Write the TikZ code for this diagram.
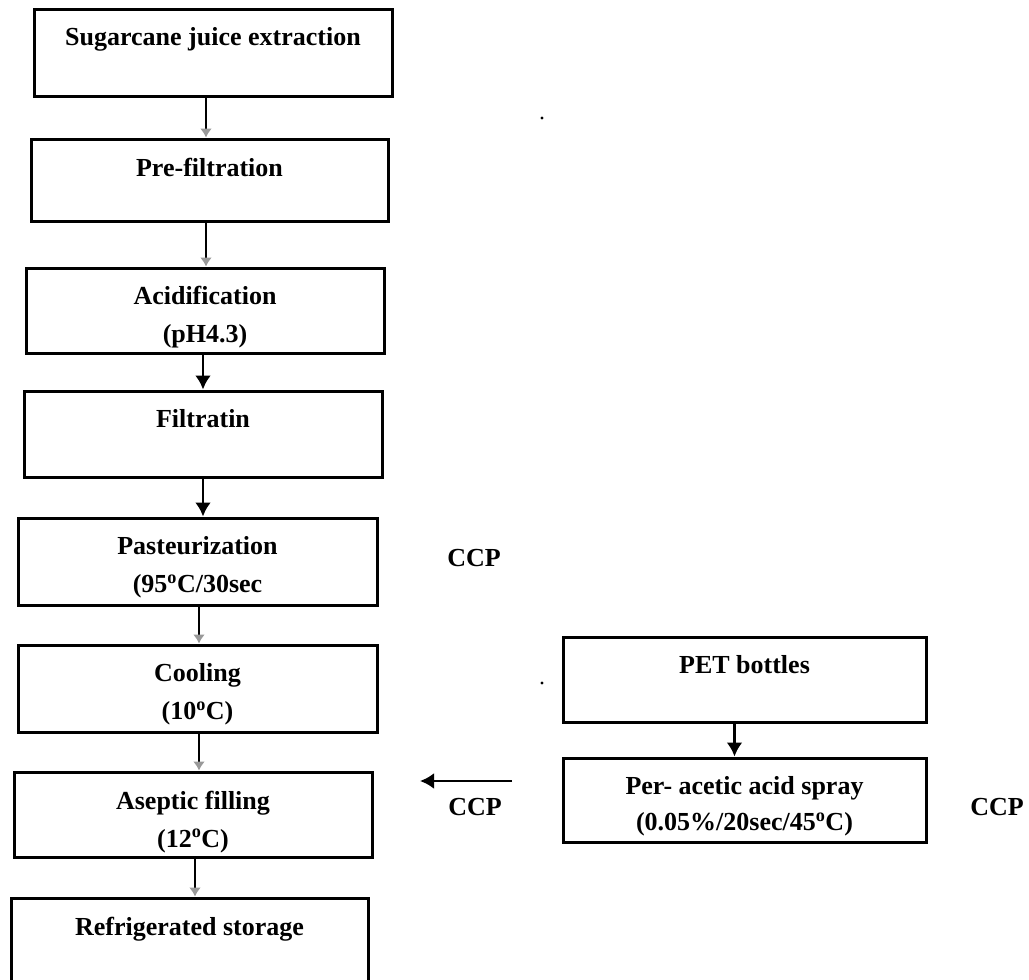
\documentclass[tikz,border=0pt]{standalone}
\usepackage{fontspec}
\setmainfont{Liberation Serif}
\usetikzlibrary{arrows.meta}
\begin{document}
\begin{tikzpicture}[x=1pt,y=-1pt,
  box/.style={draw, line width=3pt, inner sep=0pt},
  lbl/.style={font=\bfseries\fontsize{26}{38}\selectfont, align=center, inner sep=0pt, anchor=north},
  ccp/.style={font=\bfseries\fontsize{26}{30}\selectfont, inner sep=0pt},
  solidarr/.style={line width=2.8pt, -{Latex[length=14pt,width=16pt]}},
  faintarr/.style={line width=2.8pt, -{Latex[length=9pt,width=12pt,color=black!40]}}
]
\useasboundingbox (0,0) rectangle (1029,980);
\clip (0,0) rectangle (1029,980);

% boxes
\node[box, minimum width=358pt, minimum height=87pt] (b1) at (213,52.5) {};
\node[box, minimum width=357pt, minimum height=82pt] (b2) at (209.5,180) {};
\node[box, minimum width=358pt, minimum height=85pt] (b3) at (205,310.5) {};
\node[box, minimum width=358pt, minimum height=86pt] (b4) at (203,434) {};
\node[box, minimum width=359pt, minimum height=87pt] (b5) at (197.5,561.5) {};
\node[box, minimum width=359pt, minimum height=87pt] (b6) at (197.5,688.5) {};
\node[box, minimum width=358pt, minimum height=85pt] (b7) at (193,814.5) {};
\node[box, minimum width=357pt, minimum height=100pt] (b8) at (189.5,948) {};
\node[box, minimum width=363pt, minimum height=85pt] (pet) at (744.5,679.5) {};
\node[box, minimum width=363pt, minimum height=84pt] (per) at (744.5,800) {};

% texts
\node[lbl] (t1) at ([yshift=-20pt]b1.north) {Sugarcane juice extraction};
\node[lbl] (t2) at ([yshift=-20pt]b2.north) {Pre-filtration};
\node[lbl] (t3) at ([yshift=-19pt]b3.north) {Acidification\\(pH4.3)};
\node[lbl] (t4) at ([yshift=-20pt]b4.north) {Filtratin};
\node[lbl] (t5) at ([yshift=-20pt]b5.north) {Pasteurization\\(95\textsuperscript{o}C/30sec};
\node[lbl] (t6) at ([yshift=-20pt]b6.north) {Cooling\\(10\textsuperscript{o}C)};
\node[lbl] (t7) at ([yshift=-20pt]b7.north) {Aseptic filling\\(12\textsuperscript{o}C)};
\node[lbl] (t8) at ([yshift=-20pt]b8.north) {Refrigerated storage};
\node[lbl] (tp) at ([yshift=-20pt]pet.north) {PET bottles};
\node[lbl, font=\bfseries\fontsize{26}{36}\selectfont] (tq) at ([yshift=-20pt]per.north) {Per- acetic acid spray\\(0.05\%/20sec/45\textsuperscript{o}C)};

% CCP labels
\node[ccp] (ccp1) at (474,558) {CCP};
\node[ccp] (ccp2) at (475,807) {CCP};
\node[ccp] (ccp3) at (997,807) {CCP};

% connectors
\draw[faintarr] ([xshift=-7pt]b1.south) -- ([xshift=-7pt]b1.south |- b2.north);
\draw[faintarr] ([xshift=-3.5pt]b2.south) -- ([xshift=-3.5pt]b2.south |- b3.north);
\draw[solidarr] ([xshift=-2pt]b3.south) -- ([xshift=-2pt]b3.south |- b4.north);
\draw[solidarr] (b4.south) -- (b4.south |- b5.north);
\draw[faintarr] ([xshift=1.5pt]b5.south) -- ([xshift=1.5pt]b5.south |- b6.north);
\draw[faintarr] ([xshift=1.5pt]b6.south) -- ([xshift=1.5pt]b6.south |- b7.north);
\draw[faintarr] ([xshift=2pt]b7.south) -- ([xshift=2pt]b7.south |- b8.north);
\draw[solidarr] ([xshift=-10pt]pet.south) -- ([xshift=-10pt]pet.south |- per.north);

\coordinate (ccpfrom) at (512,781);
\coordinate (ccpto) at (420,781);
\draw[solidarr] (ccpfrom) -- (ccpto);

% stray specks
\fill (542,118) circle (1.6pt);
\fill (542,683) circle (1.6pt);
\end{tikzpicture}
\end{document}
